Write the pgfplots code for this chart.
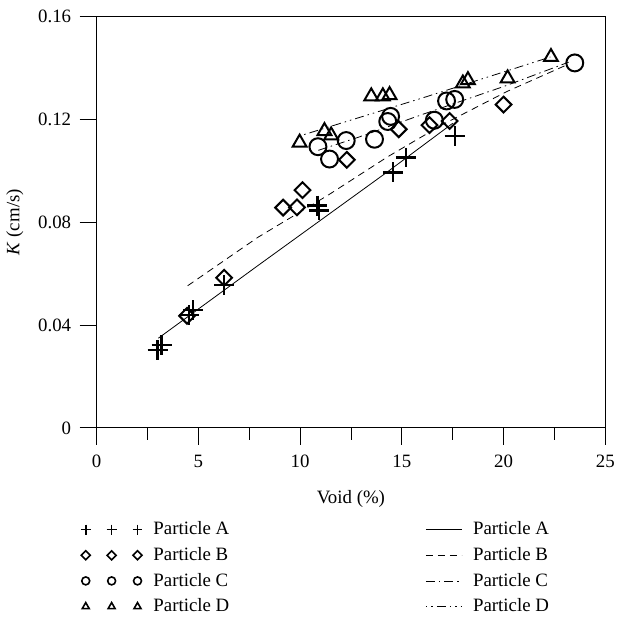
\documentclass[border={0pt 0pt 0pt 4bp}]{standalone}
\usepackage{pgfplots}
\pgfplotsset{compat=1.18}
\usepackage{fontspec}
\setmainfont{Liberation Serif}
\pgfplotsset{
  marklegend/.style={legend image code/.code={\draw[##1, mark size=#1, line width=1.6bp] plot coordinates {(0bp,0bp) (26bp,0bp) (52bp,0bp)};}},
  linelegend/.style={legend image code/.code={\draw[##1] (0bp,0bp) -- (36bp,0bp);}},
}
\begin{document}
\fontsize{19}{23}\selectfont
\begin{tikzpicture}
\begin{axis}[
  scale only axis, width=511bp, height=413bp,
  xmin=0, xmax=25, ymin=0, ymax=0.16,
  xtick={0,5,10,15,20,25}, minor xtick={2.5,7.5,12.5,17.5,22.5},
  ytick={0,0.04,0.08,0.12,0.16}, yticklabels={0,0.04,0.08,0.12,0.16},
  scaled y ticks=false,
  tick align=outside, xtick pos=left, ytick pos=left,
  major tick length=17bp, minor tick length=12bp,
  tick style={black, line width=0.8bp},
  axis line style={line width=0.8bp},
  /pgf/number format/assume math mode=true,
  ticklabel style={font=\fontsize{19}{23}\selectfont},
  xticklabel style={yshift=-4bp},
  yticklabel style={xshift=-2bp},
  label style={font=\fontsize{19}{23}\selectfont},
  xlabel={Void (\%)}, ylabel={\textit{K} (cm/s)},
  xlabel style={yshift=-10bp},
  ylabel style={yshift=2bp},
  legend columns=2,
  legend cell align=left,
  legend style={draw=none, fill=none, at={(rel axis cs:0,0)}, anchor=north west,
    xshift=-19bp, yshift=-90bp, font=\fontsize{19}{23}\selectfont,
    /tikz/every odd column/.append style={column sep=9bp},
    /tikz/every even column/.append style={column sep=195bp},
    row sep=5.8bp},
]
% Particle A
\addplot[only marks, mark=+, mark size=10bp, line width=2.4bp, marklegend=5bp] coordinates {
 (3.0,0.0303) (3.2,0.0323) (4.55,0.0440) (4.75,0.0458) (6.27,0.0556)
 (10.85,0.0865) (10.93,0.0846) (14.56,0.0994) (15.2,0.1052) (17.6,0.1136)};
\addlegendentry{Particle A}
\addplot[black, line width=0.8bp, linelegend] coordinates {
 (3.04,0.0349) (7.94,0.0632) (14.31,0.0997) (17.5,0.1185)};
\addlegendentry{Particle A}
% Particle B
\addplot[only marks, mark=square, mark size=5.6bp, mark options={rotate=45}, line width=2bp, marklegend=3.2bp] coordinates {
 (4.45,0.0436) (6.27,0.0584) (9.17,0.0857) (9.85,0.0858) (10.12,0.0925)
 (12.3,0.1043) (14.85,0.1162) (16.36,0.1178) (17.35,0.1194) (20.0,0.1258)};
\addlegendentry{Particle B}
\addplot[black, line width=0.8bp, dash pattern=on 7bp off 5bp, linelegend] coordinates {
 (4.48,0.0553) (7.94,0.0742) (11.37,0.0905) (14.31,0.1055) (17.0,0.1180) (20.2,0.1310) (23.1,0.1412)};
\addlegendentry{Particle B}
% Particle C
\addplot[only marks, mark=o, mark size=8.5bp, line width=2bp, marklegend=4bp] coordinates {
 (10.88,0.1094) (11.45,0.1046) (12.27,0.1118) (13.66,0.1123) (14.31,0.1192)
 (14.45,0.1212) (16.6,0.1197) (17.2,0.1272) (17.6,0.1278) (23.5,0.1420)};
\addlegendentry{Particle C}
\addplot[black, line width=0.8bp, dash pattern=on 9bp off 4bp on 1.5bp off 4bp, linelegend] coordinates {
 (10.9,0.1080) (12.84,0.1130) (16.03,0.1220) (20.0,0.1328) (23.2,0.1423)};
\addlegendentry{Particle C}
% Particle D
\addplot[only marks, mark=triangle, mark size=8bp, line width=2bp, marklegend=4bp] coordinates {
 (9.98,0.1110) (11.2,0.1155) (11.53,0.1138) (13.5,0.1290) (14.07,0.1290)
 (14.4,0.1295) (18.0,0.1340) (18.25,0.1353) (20.2,0.1360) (22.33,0.1443)};
\addlegendentry{Particle D}
\addplot[black, line width=0.8bp, dash pattern=on 1.5bp off 4bp on 1.5bp off 4bp on 9bp off 4bp, linelegend] coordinates {
 (9.95,0.1135) (16.03,0.1284) (22.3,0.1443)};
\addlegendentry{Particle D}
\end{axis}
\end{tikzpicture}
\end{document}
